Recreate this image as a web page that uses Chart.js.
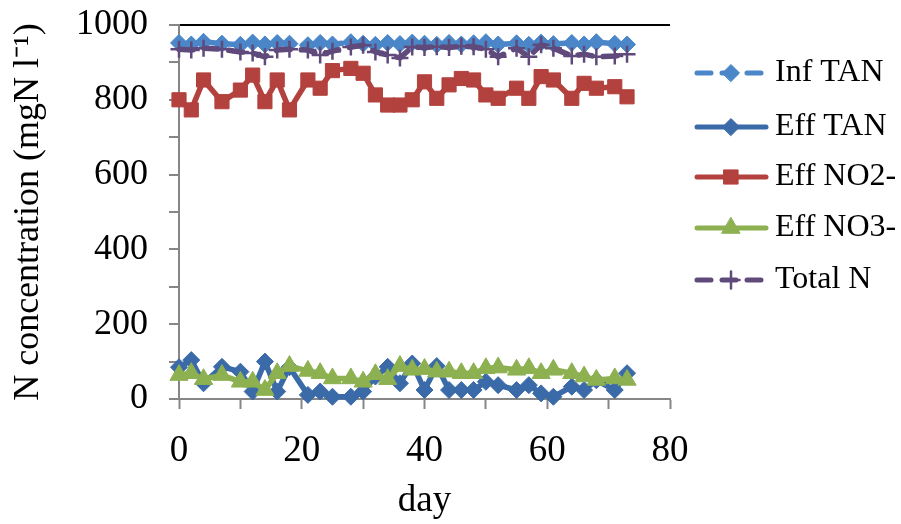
<!DOCTYPE html>
<html>
<head>
<meta charset="utf-8">
<script src="https://cdn.jsdelivr.net/npm/chart.js@4.4.1/dist/chart.umd.min.js"></script>
<style>
  html, body { margin: 0; padding: 0; background: #fff; }
  #wrap { width: 901px; height: 524px; }
</style>
</head>
<body>
<div id="wrap"><canvas id="nChart" width="901" height="524"></canvas></div>
<script>
// sampling days
const days = [0, 2, 4, 7, 10, 12, 14, 16, 18, 21, 23, 25, 28, 30, 32, 34, 36,
              38, 40, 42, 44, 46, 48, 50, 52, 55, 57, 59, 61, 64, 66, 68, 71, 73];

// N concentration (mgN l-1)
const infTAN = [952, 948, 955, 950, 947, 953, 948, 952, 950, 946, 952, 948, 954, 950, 947, 952, 949,
                953, 950, 947, 952, 948, 951, 954, 948, 951, 947, 953, 949, 952, 948, 954, 950, 948];
const effTAN = [85, 104, 42, 86, 73, 20, 100, 20, 85, 11, 20, 6, 6, 20, 60, 86, 42,
                95, 24, 88, 24, 24, 24, 46, 37, 24, 37, 15, 6, 33, 24, 50, 24, 69];
const effNO2 = [800, 773, 853, 795, 826, 866, 795, 853, 773, 853, 831, 878, 884, 871, 813, 786, 786,
                800, 848, 804, 840, 857, 853, 813, 804, 831, 804, 862, 853, 804, 844, 831, 835, 808];
const effNO3 = [64, 69, 53, 64, 46, 46, 24, 69, 88, 75, 69, 55, 55, 46, 66, 53, 88,
                78, 80, 73, 73, 69, 69, 82, 84, 78, 82, 69, 78, 69, 60, 51, 55, 51];
const totalN = [935, 933, 938, 935, 928, 925, 915, 933, 935, 933, 920, 930, 941, 946, 928, 920, 912,
                941, 940, 942, 940, 943, 942, 935, 915, 938, 915, 947, 938, 917, 922, 915, 917, 922];

const xTicks = [0, 20, 40, 60, 80];
const yTicks = [0, 200, 400, 600, 800, 1000];

const serif = '"Liberation Serif", "Times New Roman", serif';
const legendY = [73, 127, 177, 228, 280];

function pts(vals) {
    return days.map((d, i) => ({ x: d, y: vals[i] }));
}

function series(label, vals, color, style, radius, dash, order) {
    return {
        label: label,
        data: pts(vals),
        borderColor: color,
        backgroundColor: color,
        borderWidth: 5.5,
        borderDash: dash,
        borderCapStyle: 'round',
        borderJoinStyle: 'round',
        pointStyle: style,
        pointRadius: radius,
        pointBackgroundColor: color,
        pointBorderColor: color,
        pointBorderWidth: style === 'cross' ? 2.5 : 1,
        tension: 0,
        clip: false,
        order: order
    };
}

// legend on the right: line + marker + label
const sideLegend = {
    id: 'sideLegend',
    afterDraw(chart) {
        const ctx = chart.ctx;
        chart.data.datasets.forEach((ds, i) => {
            const y = legendY[i];
            ctx.save();
            ctx.strokeStyle = ds.borderColor;
            ctx.lineWidth = 5;
            ctx.lineCap = 'round';
            ctx.setLineDash(ds.borderDash || []);
            ctx.beginPath();
            ctx.moveTo(697, y);
            ctx.lineTo(766, y);
            ctx.stroke();
            ctx.setLineDash([]);
            ctx.fillStyle = ds.pointBackgroundColor;
            ctx.strokeStyle = ds.pointBorderColor;
            ctx.lineWidth = ds.pointBorderWidth;
            Chart.helpers.drawPoint(ctx, {
                pointStyle: ds.pointStyle,
                radius: ds.pointRadius,
                borderWidth: ds.pointBorderWidth,
                rotation: 0
            }, 731, y);
            ctx.fillStyle = '#000';
            ctx.font = '32px ' + serif;
            ctx.textBaseline = 'middle';
            ctx.textAlign = 'left';
            ctx.fillText(ds.label, 775, y);
            ctx.restore();
        });
    }
};

const ctx = document.getElementById('nChart').getContext('2d');
const nChart = new Chart(ctx, {
    type: 'line',
    data: {
        datasets: [
            series('Inf TAN', infTAN, '#4a86c8', 'rectRot', 8.5, [14, 11], 5),
            series('Eff TAN', effTAN, '#3b6aa8', 'rectRot', 8.5, [], 4),
            series('Eff NO2-', effNO2, '#b3413d', 'rect', 10, [], 3),
            series('Eff NO3-', effNO3, '#8db050', 'triangle', 10.5, [], 2),
            series('Total N', totalN, '#5f4a7b', 'cross', 8.5, [14, 11], 1)
        ]
    },
    options: {
        responsive: false,
        animation: false,
        layout: { padding: { top: 25, right: 231, left: 0, bottom: 0 } },
        plugins: {
            legend: { display: false },
            tooltip: { enabled: false }
        },
        scales: {
            x: {
                type: 'linear',
                min: 0,
                max: 80,
                ticks: {
                    stepSize: 10,
                    autoSkip: false,
                    maxRotation: 0,
                    padding: 20,
                    color: '#000',
                    font: { family: serif, size: 37 },
                    callback: v => xTicks.includes(v) ? v : ''
                },
                grid: { drawOnChartArea: false, tickLength: 10, tickColor: '#868686', tickWidth: 2 },
                border: { color: '#868686', width: 2 },
                title: {
                    display: true,
                    text: 'day',
                    color: '#000',
                    font: { family: serif, size: 37 },
                    padding: { top: 0, bottom: 1 }
                },
                afterFit(s) { s.height = 125; s.paddingLeft = 0; s.paddingRight = 0; }
            },
            y: {
                min: 0,
                max: 1000,
                ticks: {
                    stepSize: 100,
                    autoSkip: false,
                    padding: 21,
                    color: '#000',
                    font: { family: serif, size: 36 },
                    callback: v => yTicks.includes(v) ? v : ''
                },
                grid: {
                    color: c => (c.tick && c.tick.value === 1000) ? '#000' : 'rgba(0,0,0,0)',
                    lineWidth: 2,
                    tickLength: 10,
                    tickColor: '#868686',
                    tickWidth: 2
                },
                border: { color: '#868686', width: 2 },
                title: {
                    display: true,
                    text: 'N concentration (mgN l\u207B\u00B9)',
                    color: '#000',
                    font: { family: serif, size: 36 },
                    padding: { top: 7, bottom: 0 }
                },
                afterFit(s) { s.width = 179; s.paddingTop = 0; s.paddingBottom = 0; }
            }
        }
    },
    plugins: [sideLegend]
});
</script>
</body>
</html>
